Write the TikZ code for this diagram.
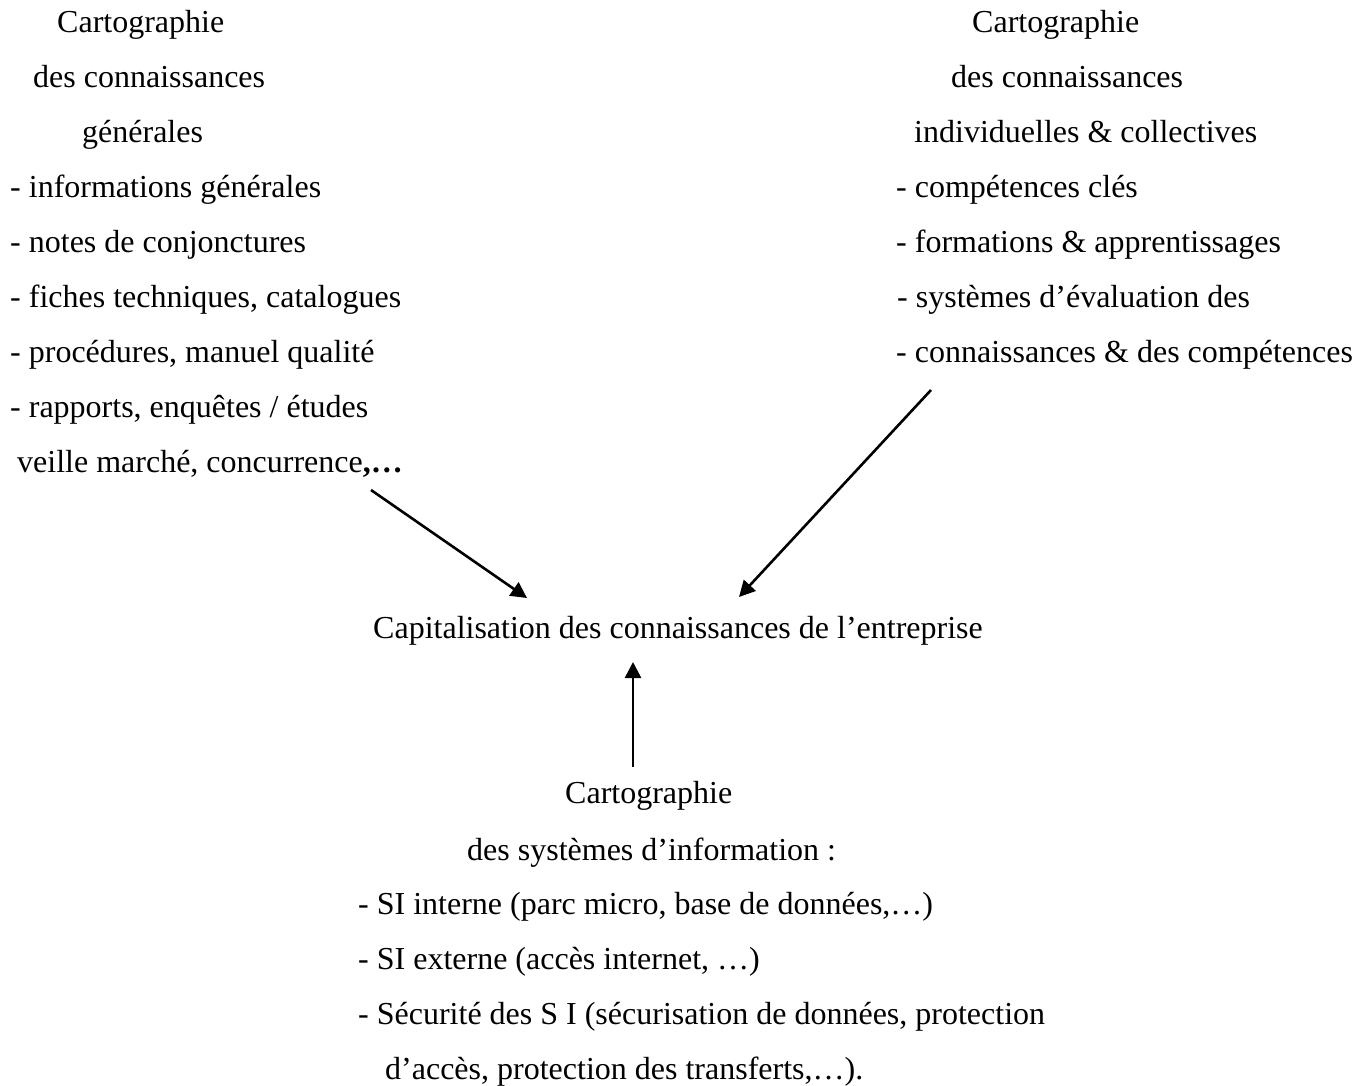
\documentclass[tikz,border=0pt]{standalone}
\usepackage{fontspec}
\setmainfont{Liberation Serif}
\usetikzlibrary{arrows.meta}
\begin{document}
\begin{tikzpicture}[x=1pt,y=-1pt,
  txt/.style={inner sep=0pt,anchor=base west,font=\fontsize{32}{38}\selectfont},
  link/.style={line width=2.6pt,-{Triangle[length=16pt,width=16pt]}}]
\useasboundingbox (0,0) rectangle (1370,1085);

% general knowledge map (left)
\node[txt] (L1) at (57,32) {Cartographie};
\node[txt] (L2) at (33,87) {des connaissances};
\node[txt] (L3) at (82,142) {générales};
\node[txt] (L4) at (10,197) {- informations générales};
\node[txt] (L5) at (10,252) {- notes de conjonctures};
\node[txt] (L6) at (10,307) {- fiches techniques, catalogues};
\node[txt] (L7) at (10,362) {- procédures, manuel qualité};
\node[txt] (L8) at (10,417) {- rapports, enquêtes / études};
\node[txt] (L9) at (17,472) {veille marché, concurrence\textbf{,…}};

% individual & collective knowledge map (right)
\node[txt] (R1) at (972,32) {Cartographie};
\node[txt] (R2) at (951,87) {des connaissances};
\node[txt] (R3) at (914,142) {individuelles \& collectives};
\node[txt] (R4) at (896,197) {- compétences clés};
\node[txt] (R5) at (896,252) {- formations \& apprentissages};
\node[txt] (R6) at (897,307) {- systèmes d’évaluation des};
\node[txt] (R7) at (896,362) {- connaissances \& des compétences};

% central node
\node[txt] (C) at (373,638) {Capitalisation des connaissances de l’entreprise};

% information systems map (bottom)
\node[txt] (B1) at (565,803) {Cartographie};
\node[txt] (B2) at (467,860) {des systèmes d’information :};
\node[txt] (B3) at (358,914) {- SI interne (parc micro, base de données,…)};
\node[txt] (B4) at (358,969) {- SI externe (accès internet, …)};
\node[txt] (B5) at (358,1024) {- Sécurité des S I (sécurisation de données, protection};
\node[txt] (B6) at (385,1079) {d’accès, protection des transferts,…).};

% arrow end points
\coordinate (lfrom) at (371,490);
\coordinate (lto) at (527,598);
\coordinate (rfrom) at (931,390);
\coordinate (rto) at (739,597);
\coordinate (bfrom) at (633,767);
\coordinate (bto) at (633,662);

\draw[link] (lfrom) -- (lto);
\draw[link] (rfrom) -- (rto);
\draw[link] (bfrom) -- (bto);
\end{tikzpicture}
\end{document}
